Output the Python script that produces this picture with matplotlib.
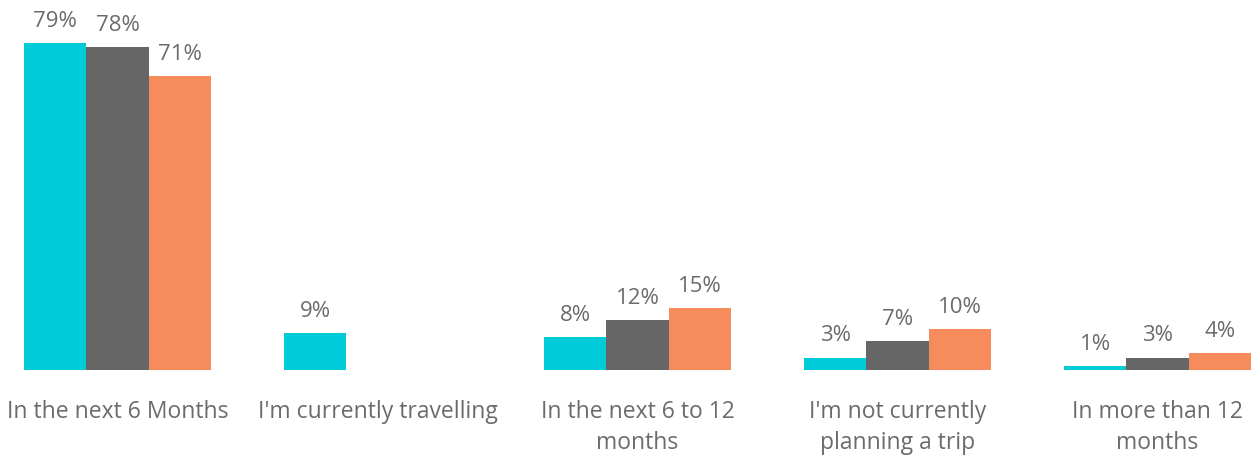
import matplotlib
matplotlib.use("Agg")
import matplotlib.pyplot as plt
import numpy as np

categories = ["In the next 6 Months", "I'm currently travelling",
              "In the next 6 to 12\nmonths", "I'm not currently\nplanning a trip",
              "In more than 12\nmonths"]
series_a = [79, 9, 8, 3, 1]
series_b = [78, None, 12, 7, 3]
series_c = [71, None, 15, 10, 4]
colors = ["#00CBD9", "#666666", "#F68B5C"]
text_color = "#6B6B6B"

plt.rcParams['font.family'] = ['Open Sans', 'DejaVu Sans']

fig = plt.figure(figsize=(12.53, 4.55), dpi=100)
ax = fig.add_axes([0, 85/455, 1, 370/455])

x = np.arange(len(categories))
w = 0.24
for i, (vals, col) in enumerate(zip([series_a, series_b, series_c], colors)):
    for xi, v in zip(x, vals):
        if v is None:
            continue
        pos = xi + (i - 1) * w
        ax.bar(pos, v, width=w, color=col, linewidth=0)
        ax.annotate(f"{v}%", (pos, v), xytext=(0, 8), textcoords="offset points",
                    ha="center", va="bottom", fontsize=16, color=text_color)

ax.set_xlim(-0.452, 4.367)
ax.set_ylim(0, 89.4)
ax.set_xticks(x)
ax.set_xticklabels(categories, fontsize=16.5, color=text_color, linespacing=1.38)
ax.tick_params(axis='x', length=0, pad=21.5)
ax.set_yticks([])
for s in ax.spines.values():
    s.set_visible(False)

fig.savefig("out.png", dpi=100)
